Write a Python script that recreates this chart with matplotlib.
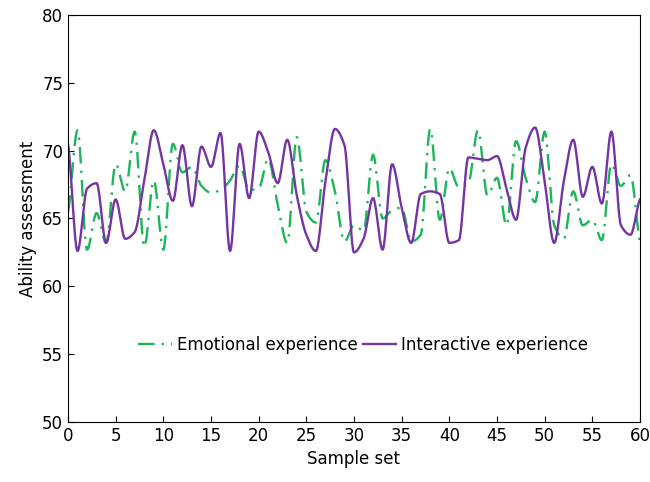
import numpy as np
import matplotlib
matplotlib.use("Agg")
import matplotlib.pyplot as plt

x_samples = list(range(61))
emotional = [65.5, 71.5, 62.7, 65.4, 63.2, 69.0, 67.0, 71.4, 62.9, 67.8,
             62.7, 70.5, 68.4, 68.8, 67.4, 66.9, 67.1, 67.8, 68.9, 67.1,
             67.2, 69.4, 66.0, 63.2, 71.0, 65.5, 64.7, 69.3, 67.0, 63.3,
             64.5, 64.1, 69.7, 65.0, 65.6, 65.8, 63.3, 63.8, 71.6, 64.9,
             68.7, 67.3, 67.6, 71.5, 66.7, 68.0, 64.5, 70.7, 68.0, 66.2,
             71.4, 64.5, 63.5, 67.0, 64.5, 64.9, 63.4, 69.0, 67.4, 68.2,
             63.3]
interactive = [70.5, 62.6, 67.2, 67.6, 63.2, 66.4, 63.5, 64.0, 67.8, 71.5,
               69.0, 66.3, 70.4, 65.9, 70.3, 68.8, 71.3, 62.6, 70.5, 66.5,
               71.4, 69.9, 67.6, 70.8, 66.7, 63.8, 62.6, 67.7, 71.6, 70.4,
               62.5, 63.5, 66.5, 62.7, 69.0, 65.8, 63.2, 66.8, 67.0, 66.8,
               63.2, 63.4, 69.5, 69.4, 69.3, 69.6, 67.2, 64.9, 70.2, 71.7,
               67.7, 63.2, 67.7, 70.8, 66.6, 68.8, 66.1, 71.4, 64.5, 63.8,
               66.4]


def pchip(x, y, xs):
    x = np.asarray(x, float)
    y = np.asarray(y, float)
    h = np.diff(x)
    delta = np.diff(y) / h
    n = len(x)
    m = np.zeros(n)
    for k in range(1, n - 1):
        if delta[k - 1] * delta[k] > 0:
            w1 = 2 * h[k] + h[k - 1]
            w2 = h[k] + 2 * h[k - 1]
            m[k] = (w1 + w2) / (w1 / delta[k - 1] + w2 / delta[k])
    m[0] = delta[0] * 0.5
    m[-1] = delta[-1] * 0.5
    idx = np.clip(np.searchsorted(x, xs) - 1, 0, n - 2)
    t = (xs - x[idx]) / h[idx]
    h00 = 2 * t ** 3 - 3 * t ** 2 + 1
    h10 = t ** 3 - 2 * t ** 2 + t
    h01 = -2 * t ** 3 + 3 * t ** 2
    h11 = t ** 3 - t ** 2
    return (h00 * y[idx] + h10 * h[idx] * m[idx]
            + h01 * y[idx + 1] + h11 * h[idx] * m[idx + 1])


plt.rcParams['font.family'] = ['DejaVu Sans']
fig = plt.figure(figsize=(6.5, 4.82), dpi=100)
ax = fig.add_axes([0.1046, 0.1245, 0.88, 0.8445])

xs = np.linspace(0, 60, 1500)
green = '#1db45a'
purple = '#7434a4'
ax.plot(xs, pchip(x_samples, emotional, xs), color=green, lw=1.7,
        dashes=(7, 3, 1, 3), label='Emotional experience')
ax.plot(xs, pchip(x_samples, interactive, xs), color=purple, lw=1.7,
        label='Interactive experience')

ax.set_xlim(0, 60)
ax.set_ylim(50, 80)
ax.set_xticks(range(0, 61, 5))
ax.set_yticks(range(50, 81, 5))
ax.tick_params(direction='in', labelsize=12, length=4)
ax.set_xlabel('Sample set', fontsize=12)
ax.set_ylabel('Ability assessment', fontsize=12)
ax.legend(loc='center', bbox_to_anchor=(0.516, 0.19), ncol=2, frameon=False,
          fontsize=12, handlelength=2.0, columnspacing=0.3, handletextpad=0.3)

fig.savefig('out.png', dpi=100)
